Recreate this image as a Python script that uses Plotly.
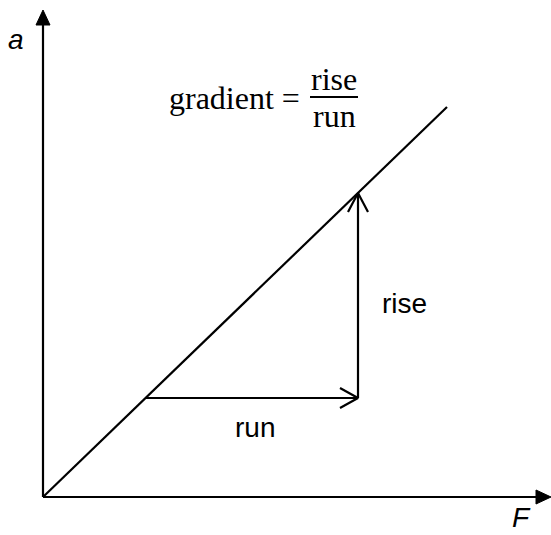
import numpy as np
import plotly.graph_objects as go

# schematic values (pixel-like units measured from the origin)
axis_F_max = 508
axis_a_max = 487
line_F = [0, 404]
line_a = [0, 390]
run_F = [102, 315]
run_a = [99, 99]
rise_F = [315, 315]
rise_a = [99, 304]

axis_labels = ["<i>a</i>", "<i>F</i>"]
arrow_labels = ["rise", "run"]
formula_lhs = "gradient ="
formula_num = "rise"
formula_den = "run"

BLACK = "black"
W = 2.2

fig = go.Figure()


def seg(xs, ys):
    fig.add_trace(go.Scatter(x=xs, y=ys, mode="lines",
                             line=dict(color=BLACK, width=W),
                             showlegend=False, hoverinfo="skip"))


def tri(xs, ys):
    fig.add_trace(go.Scatter(x=xs, y=ys, mode="lines", fill="toself",
                             fillcolor=BLACK, line=dict(color=BLACK, width=1),
                             showlegend=False, hoverinfo="skip"))


# axes with filled arrowheads
seg([0, axis_F_max - 12], [0, 0])
seg([0, 0], [0, axis_a_max - 12])
tri([axis_F_max - 15, axis_F_max, axis_F_max - 15, axis_F_max - 15], [-7, 0, 7, -7])
tri([-7, 0, 7, -7], [axis_a_max - 15, axis_a_max, axis_a_max - 15, axis_a_max - 15])

# the straight line
seg(line_F, line_a)

# run and rise arrows with open chevrons
seg(run_F, run_a)
seg([run_F[1] - 18, run_F[1], run_F[1] - 18], [run_a[1] + 10, run_a[1], run_a[1] - 10])
seg(rise_F, rise_a)
seg([rise_F[1] - 10, rise_F[1], rise_F[1] + 10], [rise_a[1] - 19, rise_a[1], rise_a[1] - 19])

sans = dict(family="Liberation Sans, Arial", size=28, color=BLACK)
serif = dict(family="Liberation Serif, Cambria, serif", size=32, color=BLACK)

fig.add_annotation(x=-27, y=458, text=axis_labels[0], showarrow=False, font=sans)
fig.add_annotation(x=478, y=-37, text=axis_labels[1], showarrow=False, font=sans,
                   yanchor="bottom", borderpad=0)
fig.add_annotation(x=361, y=194, text=arrow_labels[0], showarrow=False, font=sans)
fig.add_annotation(x=212, y=70, text=arrow_labels[1], showarrow=False, font=sans)

# formula: gradient = rise / run
fig.add_annotation(x=259, y=399, text=formula_lhs, showarrow=False, font=serif,
                   xanchor="right")
fig.add_annotation(x=291, y=418, text=formula_num, showarrow=False, font=serif)
fig.add_annotation(x=291, y=381, text=formula_den, showarrow=False, font=serif)
fig.add_shape(type="line", x0=267, x1=315, y0=400, y1=400,
              line=dict(color=BLACK, width=2))

fig.update_layout(
    width=551, height=535,
    margin=dict(l=0, r=0, t=0, b=0),
    plot_bgcolor="white", paper_bgcolor="white",
    xaxis=dict(range=[-43, 508], visible=False, fixedrange=True),
    yaxis=dict(range=[-38, 497], visible=False, fixedrange=True),
)

fig.write_html("out.html", config={"displayModeBar": False},
               post_script="document.body.style.margin='0';document.body.style.overflow='hidden';")
